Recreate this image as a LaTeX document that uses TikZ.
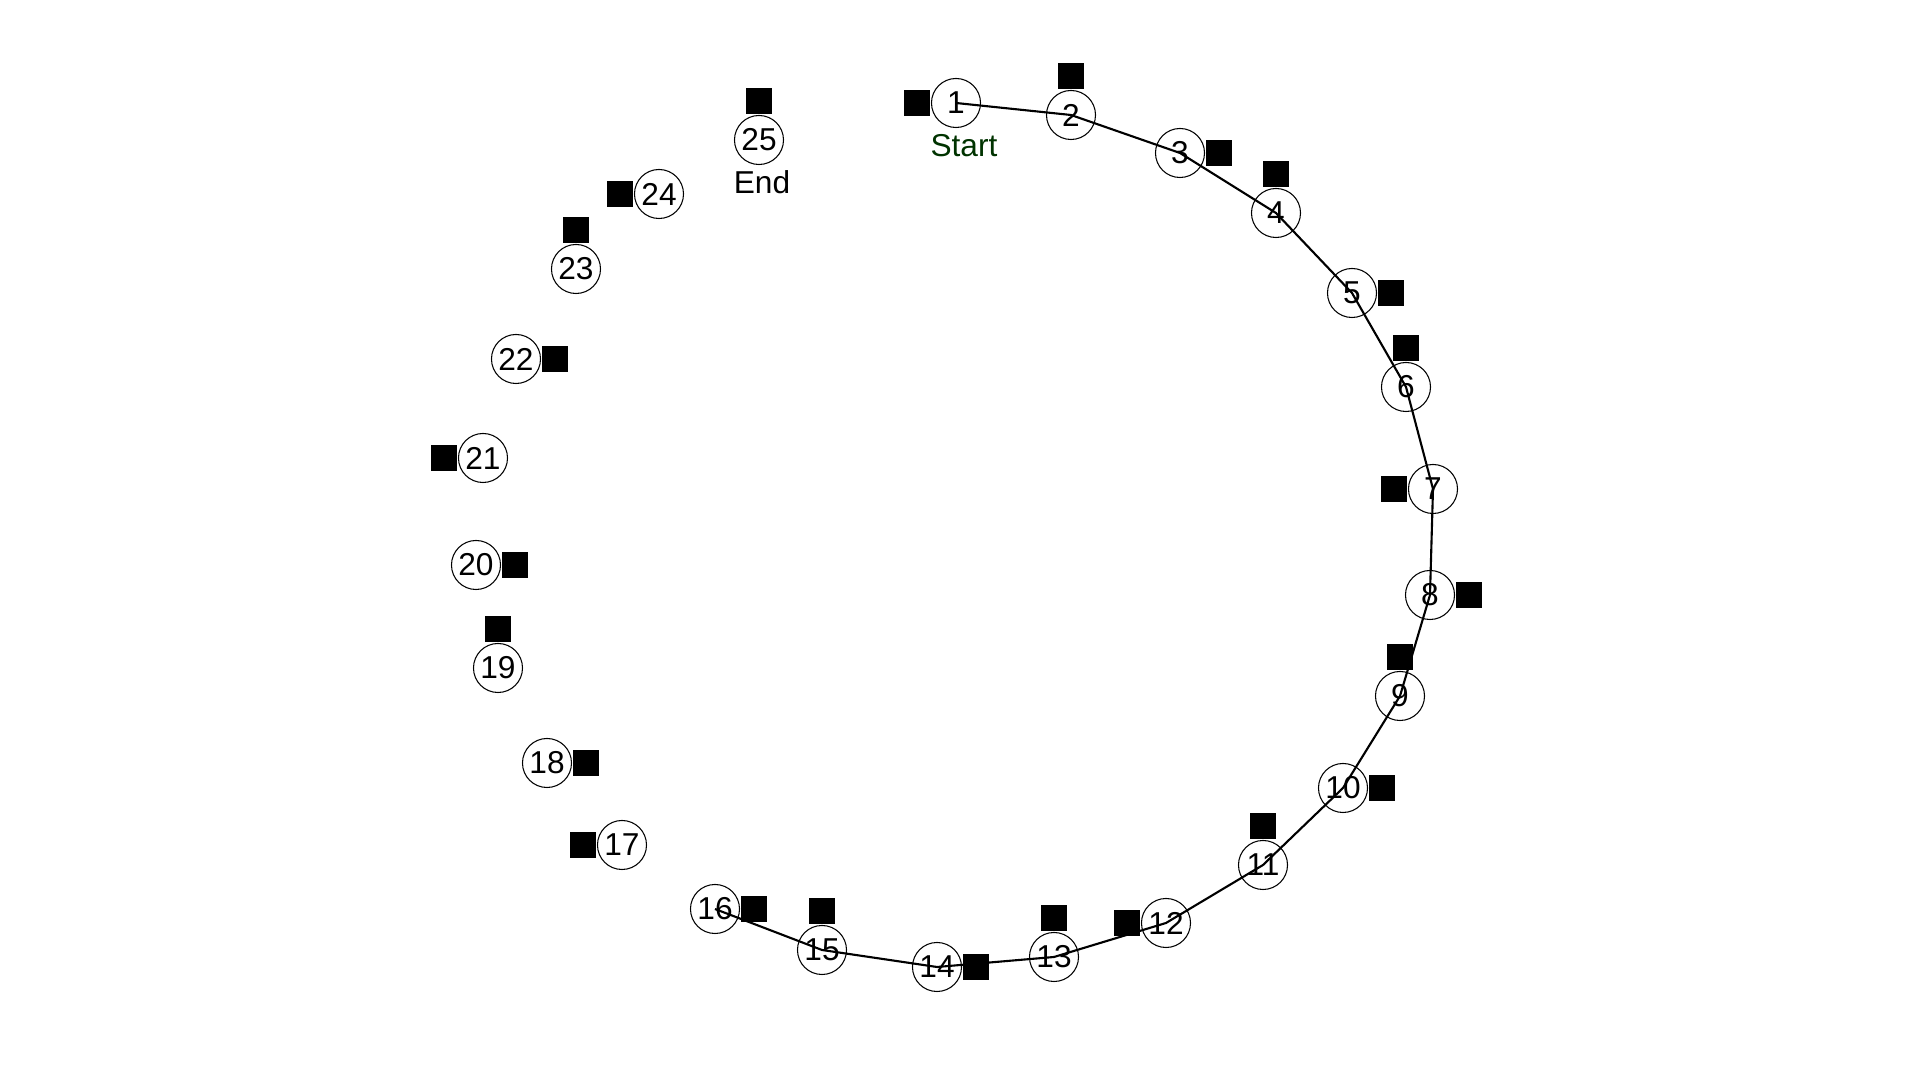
\documentclass[tikz,border=0pt]{standalone}
\usepackage{fontspec}
\setmainfont{Liberation Sans}
\usepackage{tikz}
\usetikzlibrary{positioning}
\definecolor{startgreen}{rgb}{0.0,0.2,0.0}
\tikzset{
  station/.style={circle,draw=black,line width=0.3pt,fill=none,minimum size=0.49cm,inner sep=0pt,
    font=\fontsize{9}{10}\selectfont},
  marker/.style={rectangle,fill=black,draw=none,minimum size=0.26cm,inner sep=0pt},
  tag/.style={inner sep=0pt,font=\fontsize{9}{10}\selectfont},
  route/.style={line width=0.6pt,black}
}
\begin{document}
\begin{tikzpicture}[x=0.01cm,y=-0.01cm]
			\useasboundingbox (0,0) rectangle (1920,1080);
			
			\node[station] (n1) at (956,103) {1};
			\node[station] (n2) at (1071,115) {2};
			\node[station] (n3) at (1180,153) {3};
			\node[station] (n4) at (1276,213) {4};
			\node[station] (n5) at (1352,293) {5};
			\node[station] (n6) at (1406,387) {6};
			\node[station] (n7) at (1433,489) {7};
			\node[station] (n8) at (1430,595) {8};
			\node[station] (n9) at (1400,696) {9};
			\node[station] (n10) at (1343,788) {10};
			\node[station] (n11) at (1263,865) {11};
			\node[station] (n12) at (1166,923) {12};
			\node[station] (n13) at (1054,957) {13};
			\node[station] (n14) at (937,967) {14};
			\node[station] (n15) at (822,950) {15};
			\node[station] (n16) at (715,909) {16};
			\node[station] (n17) at (622,845) {17};
			\node[station] (n18) at (547,763) {18};
			\node[station] (n19) at (498,668) {19};
			\node[station] (n20) at (476,565) {20};
			\node[station] (n21) at (483,458) {21};
			\node[station] (n22) at (516,359) {22};
			\node[station] (n23) at (576,269) {23};
			\node[station] (n24) at (659,194) {24};
			\node[station] (n25) at (759,140) {25};
			
			\node[marker,left=0pt of n1] (m1) {};
			\node[marker,above=0pt of n2] (m2) {};
			\node[marker,right=0pt of n3] (m3) {};
			\node[marker,above=0pt of n4] (m4) {};
			\node[marker,right=0pt of n5] (m5) {};
			\node[marker,above=0pt of n6] (m6) {};
			\node[marker,left=0pt of n7] (m7) {};
			\node[marker,right=0pt of n8] (m8) {};
			\node[marker,above=0pt of n9] (m9) {};
			\node[marker,right=0pt of n10] (m10) {};
			\node[marker,above=0pt of n11] (m11) {};
			\node[marker,left=0pt of n12] (m12) {};
			\node[marker,above=0pt of n13] (m13) {};
			\node[marker,right=0pt of n14] (m14) {};
			\node[marker,above=0pt of n15] (m15) {};
			\node[marker,right=0pt of n16] (m16) {};
			\node[marker,left=0pt of n17] (m17) {};
			\node[marker,right=0pt of n18] (m18) {};
			\node[marker,above=0pt of n19] (m19) {};
			\node[marker,right=0pt of n20] (m20) {};
			\node[marker,left=0pt of n21] (m21) {};
			\node[marker,right=0pt of n22] (m22) {};
			\node[marker,above=0pt of n23] (m23) {};
			\node[marker,left=0pt of n24] (m24) {};
			\node[marker,above=0pt of n25] (m25) {};
			
			\draw[route] (n1.center) -- (n2.center) -- (n3.center) -- (n4.center) -- (n5.center)
			  -- (n6.center) -- (n7.center) -- (n8.center) -- (n9.center) -- (n10.center)
			  -- (n11.center) -- (n12.center) -- (n13.center) -- (n14.center) -- (n15.center)
			  -- (n16.center);
			
			\node[tag,text=startgreen] (start) at (964,146) {Start};
			\node[tag] (end) at (762,182) {End};
		\end{tikzpicture}
\end{document}
